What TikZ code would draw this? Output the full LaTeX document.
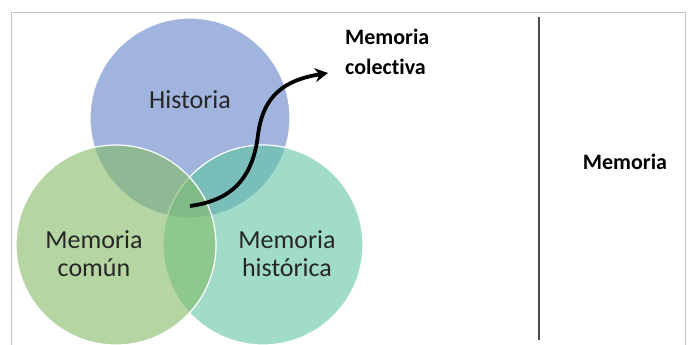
\documentclass[tikz,border=0pt]{standalone}
\usepackage{fontspec}
\setmainfont{Carlito}[Ligatures=NoCommon]
\usetikzlibrary{arrows.meta}
\definecolor{histblue}{RGB}{97,130,200}
\definecolor{comgreen}{RGB}{132,186,102}
\definecolor{histeal}{RGB}{97,197,163}
\definecolor{framegray}{RGB}{195,195,195}
\tikzset{
  venn/.style={circle,minimum size=200pt,inner sep=0pt,draw=white,line width=1.2pt,fill opacity=0.6},
  lbl/.style={font=\fontsize{26}{28}\selectfont,text=black!85,align=center},
  bold/.style={font=\fontsize{22}{30}\selectfont\bfseries,align=left,inner sep=0pt}
}

\begin{document}
\begin{tikzpicture}[x=1pt,y=-1pt]
	\useasboundingbox (0,0) rectangle (689,345);
	\draw[framegray] (11,345) -- (11,12) -- (685,12) -- (685,345);

	\node[venn,fill=histblue] (historia) at (190,118) {};
	\node[venn,fill=histeal] (historica) at (263,245) {};
	\node[venn,fill=comgreen] (comun) at (116,245) {};

	\node[lbl] (lhist) at (190,100) {Historia};
	\node[lbl] (lcomun) at (94,254) {Memoria\\común};
	\node[lbl] (lhistorica) at (287,254) {Memoria\\histórica};

	\node[bold,anchor=west] (colectiva) at (345,52) {Memoria\\colectiva};
	\node[bold] (memoria) at (625,162) {Memoria};

	\coordinate (core) at (190,206);
	\coordinate (tip) at (328,73);
	\draw[line width=3.8pt,-{Stealth[length=13pt,width=14pt]}] (core) .. controls (235,200) and (253,175) .. (258,135)
		.. controls (263,95) and (285,80) .. (tip);

	\draw[black!70,line width=1.2pt] (539,17) -- (539,340);
\end{tikzpicture}
\end{document}
